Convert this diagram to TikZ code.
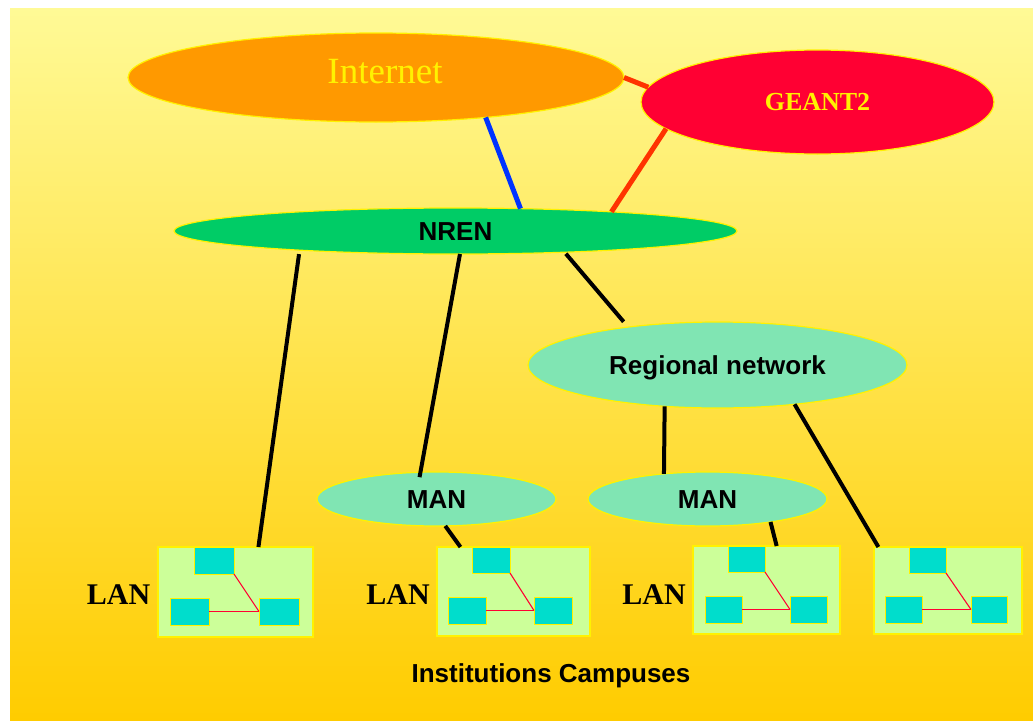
\documentclass[tikz,border=0pt]{standalone}
\usepackage{fontspec}
\setmainfont{Liberation Serif}
\newfontfamily\dgSansFam{Liberation Sans}
\usetikzlibrary{shapes.geometric,calc}
\definecolor{bgtop}{RGB}{255,250,150}
\definecolor{bgmid}{RGB}{255,230,110}
\definecolor{bgbot}{RGB}{255,204,0}
\definecolor{internetc}{RGB}{255,153,0}
\definecolor{geantc}{RGB}{255,0,51}
\definecolor{nrenc}{RGB}{0,204,102}
\definecolor{regc}{RGB}{128,229,179}
\definecolor{lanfill}{RGB}{204,255,153}
\definecolor{hostfill}{RGB}{0,221,204}
\definecolor{wirered}{RGB}{255,0,51}
\definecolor{linkred}{RGB}{255,51,0}
\definecolor{linkblue}{RGB}{0,51,255}
\newcommand\dgSansB{\dgSansFam\bfseries\fontsize{26}{30}\selectfont}
\newcommand\dgInternetFont{\fontsize{37}{40}\selectfont}
\newcommand\dgGeantFont{\bfseries\fontsize{26}{30}\selectfont}
\newcommand\dgLanFont{\bfseries\fontsize{30}{34}\selectfont}
\begin{document}
\begin{tikzpicture}[x=1pt,y=-1pt,
  net/.style={ellipse,draw=yellow,line width=1.2pt,inner sep=0pt,outer sep=0pt},
  sanslabel/.style={font=\dgSansB,text height=18.6pt,text depth=0pt},
  lanbox/.style={rectangle,draw=yellow,line width=1.6pt,fill=lanfill,inner sep=0pt,outer sep=0pt},
  host/.style={rectangle,draw=yellow,line width=1pt,fill=hostfill,inner sep=0pt,outer sep=0pt},
  wire/.style={draw=wirered,line width=1.1pt},
  link/.style={line width=4pt,draw=black},
  fatlink/.style={line width=5pt},
  lantext/.style={font=\dgLanFont,text height=20.3pt,text depth=0pt,inner sep=0pt}
]
\useasboundingbox (0,0) rectangle (1033,720);
\fill[white] (0,0) rectangle (1033,720);
\shade[top color=bgtop,middle color=bgmid,bottom color=bgbot] (10,8) rectangle (1033,720);

% clouds
\node[net,fill=internetc,minimum width=496pt,minimum height=89pt,
  label={[text=yellow,font=\dgInternetFont,text height=24.5pt,text depth=0pt,xshift=9pt,yshift=6.5pt]center:Internet}]
  (internet) at (376,77.5) {};
\node[net,fill=geantc,minimum width=353pt,minimum height=104pt,text=yellow,font=\dgGeantFont,text height=17.6pt,text depth=0pt]
  (geant) at (817.5,102) {GEANT2};
\node[net,fill=nrenc,minimum width=563pt,minimum height=46pt,sanslabel] (nren) at (455.5,231) {NREN};
\node[net,fill=regc,minimum width=379pt,minimum height=86pt,sanslabel] (regional) at (717.5,365) {Regional network};
\node[net,fill=regc,minimum width=239pt,minimum height=54pt,sanslabel] (man1) at (436.5,499) {MAN};
\node[net,fill=regc,minimum width=239pt,minimum height=54pt,sanslabel] (man2) at (707.5,499) {MAN};

% LAN 1
\node[lanbox,minimum width=155pt,minimum height=90pt] (lan1) at (235.5,592) {};
\node[host,minimum width=40pt,minimum height=27pt] (h1t) at (214,560.5) {};
\node[host,minimum width=39pt,minimum height=27pt] (h1l) at (189.5,611.5) {};
\node[host,minimum width=40pt,minimum height=27pt] (h1r) at (279,611.5) {};
\draw[wire] (h1t.south east) -- (h1r.west);
\draw[wire] (h1l.east) -- (h1r.west);
% LAN 2
\node[lanbox,minimum width=153pt,minimum height=89pt] (lan2) at (513.5,591.5) {};
\node[host,minimum width=38pt,minimum height=26pt] (h2t) at (491,560) {};
\node[host,minimum width=38pt,minimum height=27pt] (h2l) at (467,610.5) {};
\node[host,minimum width=38pt,minimum height=27pt] (h2r) at (553,610.5) {};
\draw[wire] (h2t.south east) -- (h2r.west);
\draw[wire] (h2l.east) -- (h2r.west);
% LAN 3
\node[lanbox,minimum width=147pt,minimum height=88pt] (lan3) at (766.5,590) {};
\node[host,minimum width=37pt,minimum height=26pt] (h3t) at (746.5,559) {};
\node[host,minimum width=37pt,minimum height=27pt] (h3l) at (723.5,609.5) {};
\node[host,minimum width=37pt,minimum height=27pt] (h3r) at (808.5,609.5) {};
\draw[wire] (h3t.south east) -- (h3r.west);
\draw[wire] (h3l.east) -- (h3r.west);
% LAN 4
\node[lanbox,minimum width=148pt,minimum height=87pt] (lan4) at (948,590.5) {};
\node[host,minimum width=37pt,minimum height=26pt] (h4t) at (927.5,560) {};
\node[host,minimum width=37pt,minimum height=27pt] (h4l) at (903.5,609.5) {};
\node[host,minimum width=36pt,minimum height=27pt] (h4r) at (989,609.5) {};
\draw[wire] (h4t.south east) -- (h4r.west);
\draw[wire] (h4l.east) -- (h4r.west);

% LAN labels
\node[lantext] (lanlab1) at (118.5,594.5) {LAN};
\node[lantext] (lanlab2) at (398,594.5) {LAN};
\node[lantext] (lanlab3) at (654,594.5) {LAN};
\node[sanslabel] (campus) at (551,673) {Institutions Campuses};

% links
\draw[fatlink,draw=linkred] (internet.-0.6) -- (geant.175);
\draw[fatlink,draw=linkblue] (internet.-20.7) -- (nren.19.2);
\draw[fatlink,draw=linkred] (geant.-170.2) -- (nren.7.95);
\draw[link,shorten <=4pt] (nren.-173.3) -- (lan1.63.4);
\draw[link,shorten >=-5pt] (nren.-79) -- (man1.121.5);
\draw[link,shorten <=2pt,shorten >=7pt] (nren.-11) -- (regional.157.9);
\draw[link] (regional.-142.9) -- (man2.150.7);
\draw[link] (regional.-27.9) -- (lan4.148.1);
\draw[link] (man1.-72.5) -- (lan2.140.25);
\draw[link] (man2.-20.2) -- (lan3.77.8);
\end{tikzpicture}
\end{document}
